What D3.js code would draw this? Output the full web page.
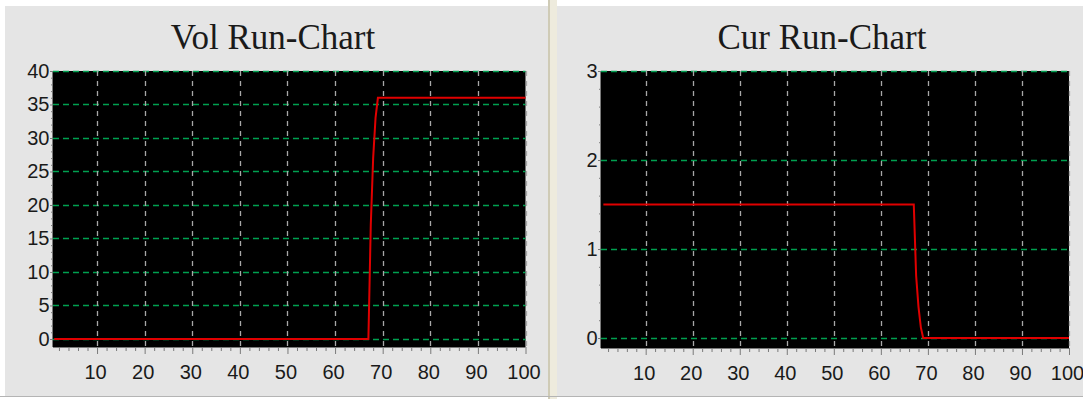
<!DOCTYPE html>
<html>
<head>
<meta charset="utf-8">
<script src="https://cdn.jsdelivr.net/npm/d3@7/dist/d3.min.js"></script>
<style>
  html, body { margin: 0; padding: 0; background: #ffffff; }
  svg { display: block; }
  .tick text { font-family: "Liberation Sans", Arial, sans-serif; font-size: 20px; fill: #1a1a1a; }
</style>
</head>
<body>
<svg id="chart" width="1083" height="399"></svg>
<script>
// ---------- data ----------
const titles = ["Vol Run-Chart", "Cur Run-Chart"];
const sampleX = [1, 67, 67.5, 68, 68.5, 69, 100];
const volValues = [0, 0, 17, 27, 33, 36, 36];
const curValues = [1.5, 1.5, 0.7, 0.35, 0.12, 0, 0];
const xTickLabels = [10, 20, 30, 40, 50, 60, 70, 80, 90, 100];
const volTickLabels = [0, 5, 10, 15, 20, 25, 30, 35, 40];
const curTickLabels = [0, 1, 2, 3];

// ---------- layout ----------
const svg = d3.select("#chart");
const W = 1083, H = 399;

svg.append("rect").attr("x", 0).attr("y", 0).attr("width", W).attr("height", H).attr("fill", "#ffffff");
// panels
svg.append("rect").attr("x", 5).attr("y", 6).attr("width", 543).attr("height", 390).attr("fill", "#e5e5e5");
svg.append("rect").attr("x", 557).attr("y", 6).attr("width", 526).attr("height", 390).attr("fill", "#e5e5e5");
// divider
svg.append("rect").attr("x", 548).attr("y", 0).attr("width", 2).attr("height", 399).attr("fill", "#cfcbb6");
svg.append("rect").attr("x", 550).attr("y", 0).attr("width", 7).attr("height", 399).attr("fill", "#eeebdd");
// bottom border
svg.append("rect").attr("x", 0).attr("y", 396).attr("width", W).attr("height", 1).attr("fill", "#b4b4b4");

const panels = [
  { title: titles[0], values: volValues, yTicks: volTickLabels, yDomain: [-1.2, 40], yMinorStep: 1,
    xDomain: [0.75, 100], left: 53, right: 525.5, top: 71, bottom: 347, cx: 273 },
  { title: titles[1], values: curValues, yTicks: curTickLabels, yDomain: [-0.112, 3], yMinorStep: 0.2,
    xDomain: [0.5, 100], left: 601, right: 1069, top: 71, bottom: 348, cx: 822 }
];

panels.forEach((p) => {
  const x = d3.scaleLinear().domain(p.xDomain).range([p.left, p.right]);
  const y = d3.scaleLinear().domain(p.yDomain).range([p.bottom, p.top]);
  const g = svg.append("g");

  // title
  g.append("text")
    .attr("x", p.cx).attr("y", 49)
    .attr("text-anchor", "middle")
    .attr("font-family", "'Liberation Serif', 'Times New Roman', serif")
    .attr("font-size", 35)
    .attr("fill", "#1a1a1a")
    .text(p.title);

  // plot background
  g.append("rect")
    .attr("x", p.left).attr("y", p.top)
    .attr("width", p.right - p.left).attr("height", p.bottom - p.top)
    .attr("fill", "#000000");

  // horizontal grid (green dashed)
  g.selectAll(".hgrid").data(p.yTicks).enter().append("line")
    .attr("x1", p.left).attr("x2", p.right)
    .attr("y1", d => Math.round(y(d)) + 0.5).attr("y2", d => Math.round(y(d)) + 0.5)
    .attr("stroke", "#00a050").attr("stroke-width", 1.4)
    .attr("stroke-dasharray", "6,4");

  // vertical grid (grey dashed)
  g.selectAll(".vgrid").data(xTickLabels).enter().append("line")
    .attr("x1", d => Math.round(x(d)) + 0.5).attr("x2", d => Math.round(x(d)) + 0.5)
    .attr("y1", p.top).attr("y2", p.bottom)
    .attr("stroke", "#a8a8a8").attr("stroke-width", 1.3)
    .attr("stroke-dasharray", "5,5");

  // x axis: minor ticks
  const minorX = d3.range(2, 101, 2).filter(v => v % 10 !== 0);
  const xMinor = g.append("g").attr("transform", `translate(0,${p.bottom})`)
    .call(d3.axisBottom(x).tickValues(minorX).tickSize(4).tickFormat(""));
  xMinor.select(".domain").remove();
  xMinor.selectAll("line").attr("stroke", "#7a7a7a");

  // x axis: major ticks + labels
  const xMajor = g.append("g").attr("transform", `translate(0,${p.bottom})`)
    .call(d3.axisBottom(x).tickValues(xTickLabels).tickSize(7).tickPadding(11).tickFormat(d3.format("d")));
  xMajor.select(".domain").remove();
  xMajor.selectAll("line").attr("stroke", "#7a7a7a");
  xMajor.selectAll("text").attr("dx", -2);

  // y axis: minor ticks
  const minorY = d3.range(0, p.yDomain[1] + 1e-9, p.yMinorStep)
    .filter(v => !p.yTicks.some(t => Math.abs(t - v) < 1e-6));
  const yMinor = g.append("g").attr("transform", `translate(${p.left},0)`)
    .call(d3.axisLeft(y).tickValues(minorY).tickSize(2).tickFormat(""));
  yMinor.select(".domain").remove();
  yMinor.selectAll("line").attr("stroke", "#7a7a7a");

  // y axis: major ticks + labels
  const yMajor = g.append("g").attr("transform", `translate(${p.left},0)`)
    .call(d3.axisLeft(y).tickValues(p.yTicks).tickSize(3).tickPadding(0.5).tickFormat(d3.format("d")));
  yMajor.select(".domain").remove();
  yMajor.selectAll("line").attr("stroke", "#7a7a7a");

  // axis lines
  g.append("line").attr("x1", p.left - 0.5).attr("x2", p.left - 0.5).attr("y1", p.top).attr("y2", p.bottom)
    .attr("stroke", "#7a7a7a").attr("stroke-width", 1);
  g.append("line").attr("x1", p.left).attr("x2", p.right).attr("y1", p.bottom + 0.5).attr("y2", p.bottom + 0.5)
    .attr("stroke", "#7a7a7a").attr("stroke-width", 1);

  // series line
  const line = d3.line().x((d, i) => x(sampleX[i])).y(d => y(d));
  g.append("path")
    .datum(p.values)
    .attr("d", line)
    .attr("fill", "none")
    .attr("stroke", "#e00000")
    .attr("stroke-width", 2);
});
</script>
</body>
</html>
